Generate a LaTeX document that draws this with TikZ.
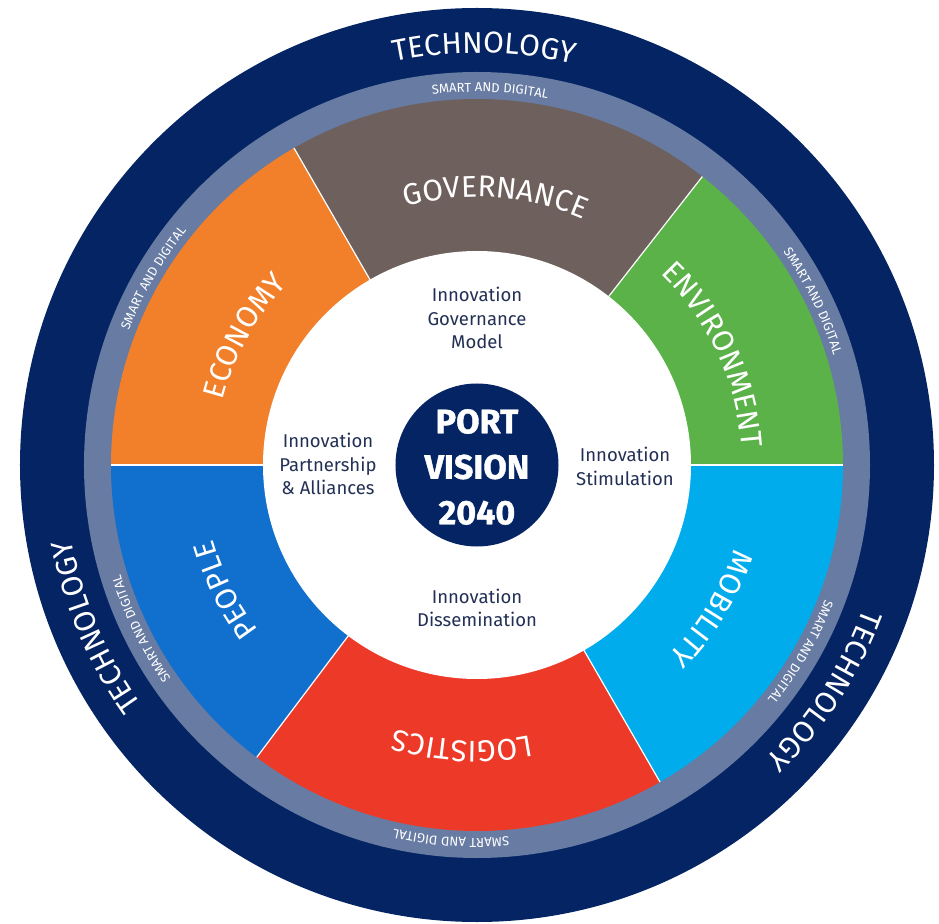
\documentclass[tikz,border=0pt]{standalone}
\usepackage{fontspec}
\setmainfont{Fira Sans}
\newfontfamily\heavy{Fira Sans}[BoldFeatures={FakeBold=1.2}]
\usetikzlibrary{calc,decorations.text}
\definecolor{navy}{RGB}{4,36,100}
\definecolor{ringgray}{RGB}{103,123,163}
\definecolor{econorange}{RGB}{242,127,41}
\definecolor{govbrown}{RGB}{110,96,93}
\definecolor{envgreen}{RGB}{90,178,73}
\definecolor{mobblue}{RGB}{0,172,236}
\definecolor{peopleblue}{RGB}{17,111,206}
\definecolor{logred}{RGB}{237,57,40}
\definecolor{ink}{RGB}{35,48,85}
\def\ringtext[#1](#2:#3)#4{\path[decorate,decoration={text along path,text align=center,text color=white,text={|#1|#4}}] ({#2+70}:#3) arc ({#2+70}:{#2-70}:#3);}
\def\big{\fontsize{30}{30}\selectfont}
\def\small{\fontsize{13}{13}\selectfont}
\tikzset{
	inner/.style={text=ink, align=center, font=\fontsize{18.5}{23.5}\selectfont},
	core/.style={text=white, align=center, font=\heavy\bfseries\fontsize{34}{45.5}\selectfont}
}
\begin{document}
\begin{tikzpicture}[x=1pt,y=1pt]
				\useasboundingbox (-477,-458) rectangle (462,465);
				\fill[navy] (0,0) circle (457);
				\fill[ringgray] (0,0) circle (393);
				
				\foreach \col/\a/\b in {envgreen/0/52, govbrown/52/120, econorange/120/180, peopleblue/180/233, logred/233/300, mobblue/300/360}
					\fill[\col] (0,0) -- (\a:366) arc (\a:\b:366) -- cycle;
				\foreach \a in {0,52,120,180,233,300}
					\draw[white, line width=1.2pt] (0,0) -- (\a:366);
				
				\fill[white] (0,0) circle (214);
				\fill[navy] (0,0) circle (81.5);
				
				\ringtext[\big](89:412){TECHNOLOGY}
				\ringtext[\big](203:412){TECHNOLOGY}
				\ringtext[\big](-33:412){TECHNOLOGY}
				
				\ringtext[\small](88:373){SMART AND DIGITAL}
				\ringtext[\small](150:373){SMART AND DIGITAL}
				\ringtext[\small](206:373){SMART AND DIGITAL}
				\ringtext[\small](266:373){SMART AND DIGITAL}
				\ringtext[\small](330:373){SMART AND DIGITAL}
				\ringtext[\small](26:373){SMART AND DIGITAL}
				
				\ringtext[\big](86:268){GOVERNANCE}
				\ringtext[\big](151:262){ECONOMY}
				\ringtext[\big](25:265){ENVIRONMENT}
				\ringtext[\big](206.5:274){PEOPLE}
				\ringtext[\big](267:276){LOGISTICS}
				\ringtext[\big](-31.5:270){MOBILITY}
				
				\node[core] (port) at (0,-2) {PORT\\VISION\\2040};
				\node[inner] (model) at (0,147) {Innovation\\Governance\\Model};
				\node[inner] (alliance) at (-149,1) {Innovation\\Partnership\\\& Alliances};
				\node[inner] (stimulus) at (148,-1.5) {Innovation\\Stimulation};
				\node[inner] (spread) at (0,-143) {Innovation\\Dissemination};
			\end{tikzpicture}
\end{document}
